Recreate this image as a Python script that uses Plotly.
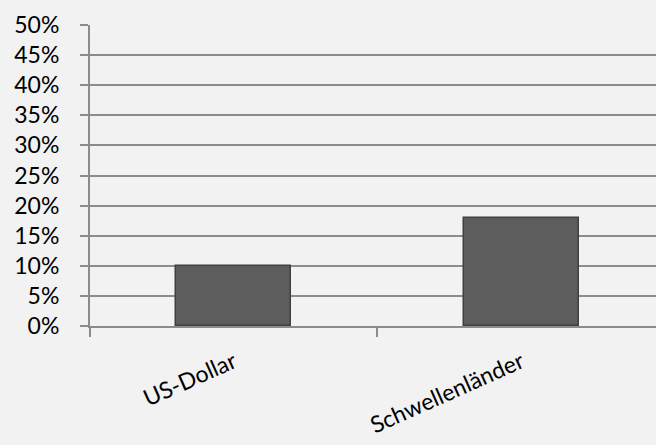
import plotly.graph_objects as go

categories = ["US-Dollar", "Schwellenländer"]
values = [0.10, 0.18]
y_ticks = [0, 0.05, 0.10, 0.15, 0.20, 0.25, 0.30, 0.35, 0.40, 0.45, 0.50]
y_tick_labels = ["0%", "5%", "10%", "15%", "20%", "25%", "30%", "35%", "40%", "45%", "50%"]

fig = go.Figure()
fig.add_trace(go.Bar(
    x=categories, y=values, width=0.4,
    marker=dict(color="#5d5d5d", line=dict(color="#404040", width=1.5)),
))

font = dict(family="Lato, Open Sans, sans-serif", size=23, color="#000000")
fig.update_layout(
    width=656, height=445,
    margin=dict(l=90, r=0, t=25, b=119),
    paper_bgcolor="#f2f2f2", plot_bgcolor="#f2f2f2",
    showlegend=False, font=font, bargap=0,
)
fig.update_xaxes(
    type="category", range=[-0.5, 1.469],
    tickson="boundaries", ticks="outside", ticklen=9, tickcolor="#8c8c8c", tickwidth=2,
    showline=True, linecolor="#8c8c8c", linewidth=2,
    tickangle=-24, tickfont=font, showgrid=False,
    ticklabelshift=0, ticklabelstandoff=12,
)
fig.update_yaxes(
    range=[0, 0.5], tickvals=y_ticks, ticktext=y_tick_labels,
    ticks="outside", ticklen=8, tickcolor="#8c8c8c", tickwidth=2,
    showline=True, linecolor="#8c8c8c", linewidth=2,
    showgrid=True, gridcolor="#8c8c8c", gridwidth=2,
    zeroline=False, tickfont=font, ticklabelstandoff=16,
)
fig.write_html("out.html", config={"displayModeBar": False},
               post_script="document.body.style.margin='0';document.body.style.background='#f2f2f2';")
